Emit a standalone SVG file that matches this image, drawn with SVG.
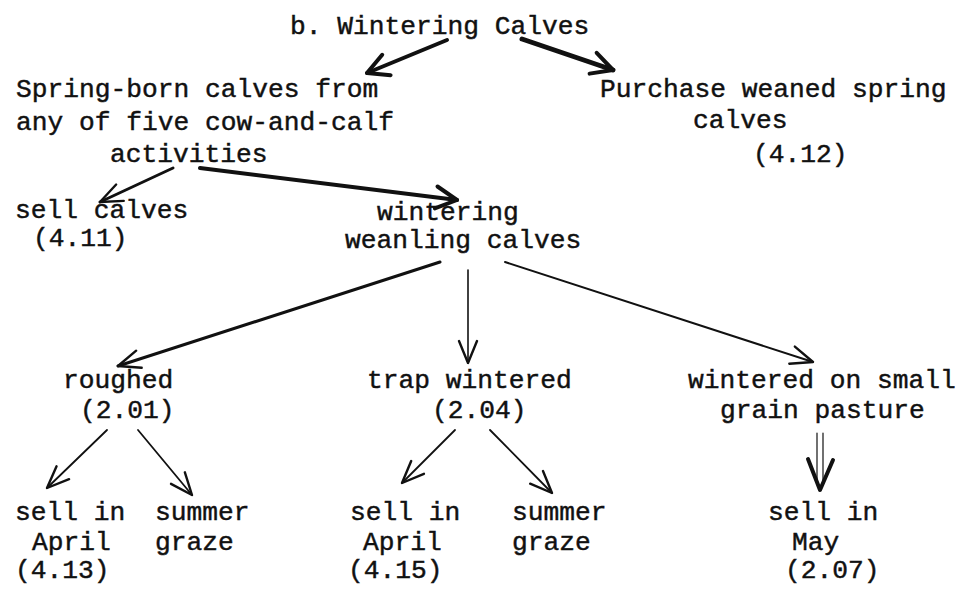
<svg xmlns="http://www.w3.org/2000/svg" width="963" height="589" viewBox="0 0 963 589">
  <style>
    text { font-family: "Liberation Mono", "DejaVu Sans Mono", monospace; font-size: 26.25px; fill: #111; stroke: #111; stroke-width: 0.45; }
    .edge { fill: none; stroke: #111; stroke-linecap: round; stroke-linejoin: round; }
  </style>
  <defs>
    <!-- open V heads, drawn in user units so they keep one size -->
    <marker id="v" markerUnits="userSpaceOnUse" viewBox="-26 -14 30 28" markerWidth="30" markerHeight="28" refX="0" refY="0" orient="auto">
      <path d="M -22 -9 L 0 0 L -22 9" fill="none" stroke="#111" stroke-width="2.4" stroke-linecap="round" stroke-linejoin="round"/>
    </marker>
    <marker id="vb" markerUnits="userSpaceOnUse" viewBox="-26 -14 30 28" markerWidth="30" markerHeight="28" refX="0" refY="0" orient="auto">
      <path d="M -21 -11 L 0 0 L -21 11" fill="none" stroke="#111" stroke-width="4" stroke-linecap="round" stroke-linejoin="round"/>
    </marker>
  </defs>
  <rect width="963" height="589" fill="#fff"/>

  <g id="root"><text x="290" y="34">b. Wintering Calves</text></g>
  <g id="springborn">
    <text x="16" y="97">Spring-born calves from</text>
    <text x="16" y="130">any of five cow-and-calf</text>
    <text x="110" y="162">activities</text>
  </g>
  <g id="purchase">
    <text x="600" y="97">Purchase weaned spring</text>
    <text x="693" y="128">calves</text>
    <text x="753" y="162">(4.12)</text>
  </g>
  <g id="sell-calves">
    <text x="15" y="218">sell calves</text>
    <text x="33" y="246">(4.11)</text>
  </g>
  <g id="wintering">
    <text x="377" y="220">wintering</text>
    <text x="345" y="248">weanling calves</text>
  </g>
  <g id="roughed">
    <text x="63" y="388">roughed</text>
    <text x="80" y="418">(2.01)</text>
  </g>
  <g id="trap">
    <text x="367" y="388">trap wintered</text>
    <text x="432" y="418">(2.04)</text>
  </g>
  <g id="small-grain">
    <text x="688" y="388">wintered on small</text>
    <text x="720" y="418">grain pasture</text>
  </g>
  <g id="rough-sell">
    <text x="15" y="520">sell in</text>
    <text x="32" y="550">April</text>
    <text x="15" y="578">(4.13)</text>
  </g>
  <g id="rough-graze">
    <text x="155" y="520">summer</text>
    <text x="155" y="550">graze</text>
  </g>
  <g id="trap-sell">
    <text x="350" y="520">sell in</text>
    <text x="363" y="550">April</text>
    <text x="348" y="578">(4.15)</text>
  </g>
  <g id="trap-graze">
    <text x="512" y="520">summer</text>
    <text x="512" y="550">graze</text>
  </g>
  <g id="may-sell">
    <text x="768" y="520">sell in</text>
    <text x="792" y="550">May</text>
    <text x="785" y="578">(2.07)</text>
  </g>

  <g id="connectors">
    <line class="edge" x1="447" y1="40" x2="367" y2="73" stroke-width="4" marker-end="url(#vb)"/>
    <line class="edge" x1="522" y1="39" x2="613" y2="70" stroke-width="5" marker-end="url(#vb)"/>
    <line class="edge" x1="173" y1="168" x2="100" y2="202" stroke-width="3" marker-end="url(#v)"/>
    <line class="edge" x1="200" y1="168" x2="457" y2="200" stroke-width="4" marker-end="url(#vb)"/>
    <line class="edge" x1="440" y1="262" x2="118" y2="366" stroke-width="3" marker-end="url(#v)"/>
    <line class="edge" x1="468" y1="270" x2="468" y2="363" stroke-width="1.6" marker-end="url(#v)"/>
    <line class="edge" x1="505" y1="262" x2="813" y2="362" stroke-width="2" marker-end="url(#v)"/>
    <line class="edge" x1="107" y1="430" x2="47" y2="488" stroke-width="1.8" marker-end="url(#v)"/>
    <line class="edge" x1="138" y1="430" x2="192" y2="495" stroke-width="1.8" marker-end="url(#v)"/>
    <line class="edge" x1="455" y1="430" x2="402" y2="483" stroke-width="1.8" marker-end="url(#v)"/>
    <line class="edge" x1="490" y1="430" x2="552" y2="493" stroke-width="1.8" marker-end="url(#v)"/>
    <line class="edge" x1="817" y1="433" x2="817" y2="480" stroke-width="1.2"/>
    <line class="edge" x1="823" y1="433" x2="823" y2="480" stroke-width="1.2"/>
    <path class="edge" d="M 808 459 L 820 490 L 833 460" stroke-width="4"/>
  </g>
</svg>
